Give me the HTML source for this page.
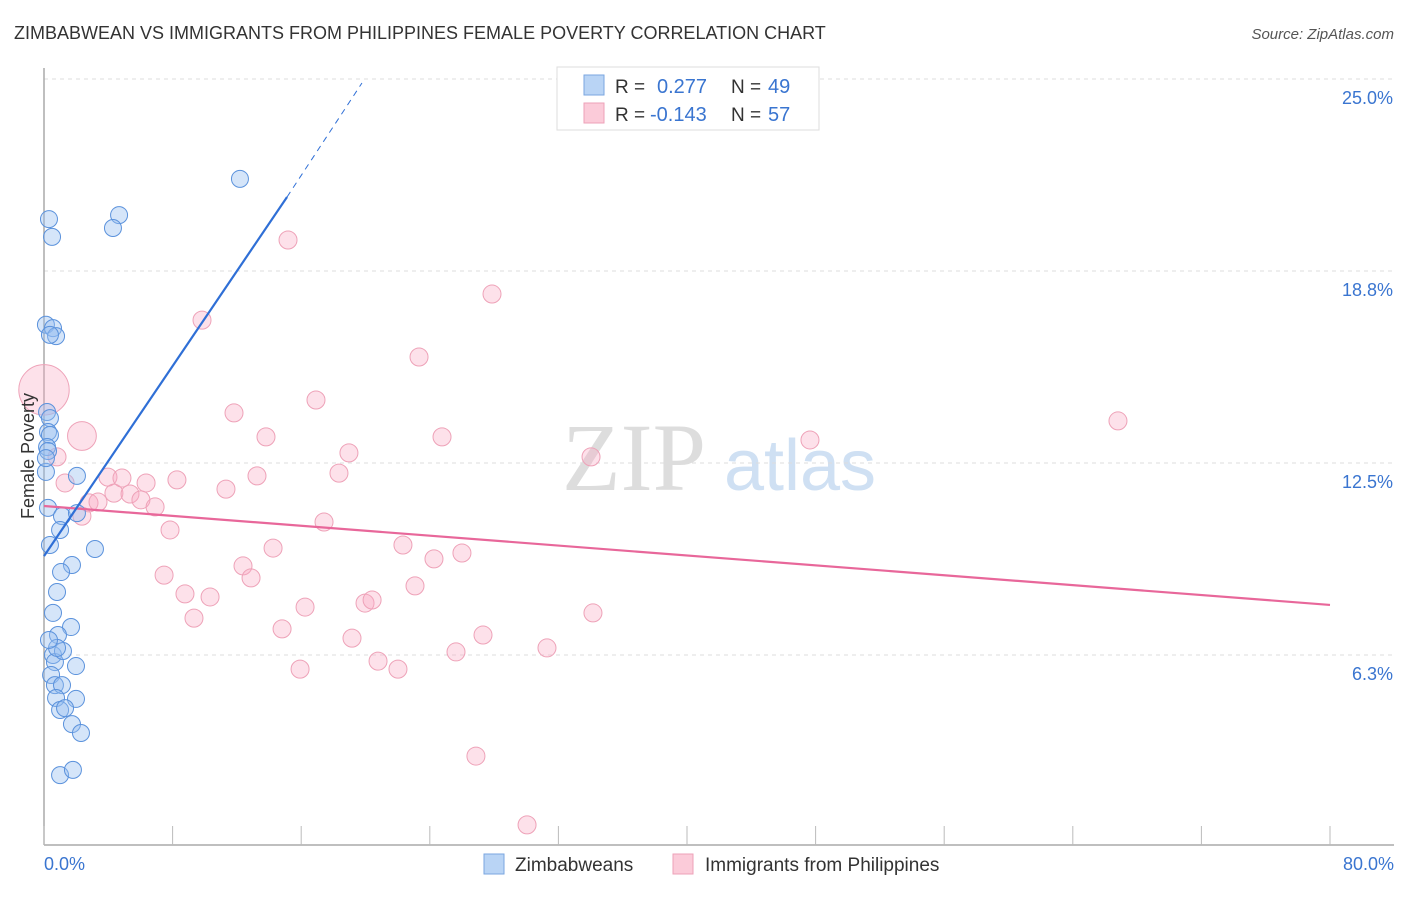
<!DOCTYPE html>
<html><head><meta charset="utf-8"><style>
body{margin:0;background:#fff;font-family:"Liberation Sans",sans-serif}
svg text{font-family:"Liberation Sans",sans-serif}
</style></head><body>
<svg id="c" width="1406" height="892" xmlns="http://www.w3.org/2000/svg">
<text x="14" y="39" font-size="18" fill="#333">ZIMBABWEAN VS IMMIGRANTS FROM PHILIPPINES FEMALE POVERTY CORRELATION CHART</text>
<text x="1394" y="39" font-size="15" fill="#555" font-style="italic" text-anchor="end">Source: ZipAtlas.com</text>
<g>
<text x="634" y="490" font-size="96" font-family="Liberation Serif" fill="#ddd" text-anchor="middle" style="font-family:'Liberation Serif',serif">ZIP</text>
<text x="800" y="490" font-size="72" fill="#cfe0f3" text-anchor="middle">atlas</text>
</g>
<g id="grid"></g>
<g id="axes"></g>
<g id="marks"></g>
<text transform="translate(34,456) rotate(-90)" font-size="18" fill="#333" text-anchor="middle">Female Poverty</text>
<g>
<rect x="557" y="67" width="262" height="63" fill="#fff" stroke="#ddd"/>
<rect x="584" y="75" width="20" height="20" fill="#b9d4f5" stroke="#7aa6e0"/>
<text x="615" y="93" font-size="19" fill="#333">R = </text><text x="657" y="93" font-size="20" fill="#3a75d0">0.277</text>
<text x="731" y="93" font-size="19" fill="#333">N = </text><text x="768" y="93" font-size="20" fill="#3a75d0">49</text>
<rect x="584" y="103" width="20" height="20" fill="#fbcbd9" stroke="#eea2b8"/>
<text x="615" y="121" font-size="19" fill="#333">R = </text><text x="650" y="121" font-size="20" fill="#3a75d0">-0.143</text>
<text x="731" y="121" font-size="19" fill="#333">N = </text><text x="768" y="121" font-size="20" fill="#3a75d0">57</text>
</g>
<g>
<rect x="484" y="854" width="20" height="20" fill="#b9d4f5" stroke="#7aa6e0"/>
<text x="515" y="871" font-size="19" fill="#333">Zimbabweans</text>
<rect x="673" y="854" width="20" height="20" fill="#fbcbd9" stroke="#eea2b8"/>
<text x="705" y="871" font-size="19" fill="#333">Immigrants from Philippines</text>
</g>
</svg>
<script>
const xTicks=[0,10,20,30,40,50,60,70,80];
const yTickVals=[6.25,12.5,18.75,25];
const yTickLabels=["6.3%","12.5%","18.8%","25.0%"];
const blueX=[12.19,4.67,4.29,0.31,0.50,0.12,0.56,0.75,0.37,0.19,0.37,0.25,0.37,0.19,0.25,0.12,2.05,0.25,1.12,2.05,0.37,1.0,3.17,1.74,1.06,0.81,0.56,1.68,0.87,0.56,0.68,1.18,1.99,0.44,0.68,1.12,1.99,0.75,1.0,1.31,1.74,2.30,1.0,1.80,0.81,0.31,0.12];
const blueY=[21.75,20.57,20.15,20.44,19.86,17.0,16.89,16.63,16.67,14.16,13.96,13.51,13.41,13.02,12.89,12.21,12.08,11.04,10.77,10.87,9.83,10.32,9.70,9.18,8.95,8.30,7.62,7.16,6.90,6.25,6.02,6.38,5.89,5.60,5.27,5.27,4.82,4.85,4.46,4.52,4.0,3.71,2.34,2.51,6.48,6.74,12.66];
const pinkX=[0,2.36,0.81,1.31,3.98,2.36,2.80,3.36,4.35,4.85,5.35,6.03,6.35,6.91,7.84,8.27,7.47,8.77,9.33,10.33,9.83,11.82,11.32,12.38,12.88,13.25,13.81,14.25,14.81,15.18,15.93,16.24,16.92,17.42,18.35,18.97,19.16,19.97,20.41,20.78,22.02,22.33,23.08,23.33,24.26,24.76,25.63,26.0,26.87,27.31,27.87,30.05,31.29,34.03,34.15,47.65,66.81];
const pinkY=[14.88,13.38,12.70,11.85,12.04,10.77,11.20,11.23,11.52,12.01,11.49,11.30,11.85,11.07,10.32,11.95,8.85,8.24,7.45,8.14,17.15,14.13,11.65,9.15,8.76,12.08,13.35,9.73,7.10,19.76,5.79,7.81,14.55,10.58,12.17,12.83,6.80,7.94,8.04,6.05,5.79,9.83,8.50,15.95,9.38,13.35,6.35,9.57,2.96,6.90,18.0,0.72,6.48,12.70,7.62,13.25,13.87];
const pinkWeight=[7,3,1,1,1,1,1,1,1,1,1,1,1,1,1,1,1,1,1,1,1,1,1,1,1,1,1,1,1,1,1,1,1,1,1,1,1,1,1,1,1,1,1,1,1,1,1,1,1,1,1,1,1,1,1,1,1];
const blueTrend=[[0,9.47],[15.12,21.16],[19.78,24.87]];
const pinkTrend=[[0,11.10],[80,7.88]];
const NS="http://www.w3.org/2000/svg";
const X=v=>44+v/80*1286, Y=v=>463-(v-12.5)*30.72;
function mk(t,a,p){const e=document.createElementNS(NS,t);for(const k in a)e.setAttribute(k,a[k]);p.appendChild(e);return e;}
const grid=document.getElementById('grid'),axes=document.getElementById('axes'),marks=document.getElementById('marks');
yTickVals.forEach((v,i)=>{
 const l=mk('line',{x1:44,x2:1394,y1:Y(v),y2:Y(v),stroke:'#ddd','stroke-dasharray':'4,4'},grid);
 
 
 const t=mk('text',{x:1393,y:Y(v)+25,'font-size':18,fill:'#3a75d0','text-anchor':'end'},axes);
 t.textContent=yTickLabels[i];
 
 
});
const ax=mk('line',{x1:44,x2:1394,y1:845,y2:845,stroke:'#aaa','stroke-width':1.5},axes);


const ay=mk('line',{x1:44,x2:44,y1:68,y2:845,stroke:'#aaa','stroke-width':1.5},axes);


for(let v=0;v<=80;v+=8){
 const t=mk('line',{x1:X(v)+(v==0?0:0),x2:X(v),y1:826,y2:845,stroke:'#bbb'},axes);
 
 
}
[[0,"0.0%","start",44],[80,"80.0%","end",1394]].forEach(d=>{
 const t=mk('text',{x:d[3],y:870,'font-size':18,fill:'#3a75d0','text-anchor':d[2]},axes);
 t.textContent=d[1];
 
 
});
pinkX.forEach((x,i)=>{
 const c=mk('circle',{cx:X(x),cy:Y(pinkY[i]),r:9+(pinkWeight[i]-1)*2.7,fill:'rgba(248,170,195,0.35)',stroke:'#eea2b8','stroke-width':1},marks);
 
 
});
blueX.forEach((x,i)=>{
 const c=mk('circle',{cx:X(x),cy:Y(blueY[i]),r:8.5,fill:'rgba(150,190,240,0.4)',stroke:'#5b92dc','stroke-width':1},marks);
 
 
});
const pt=mk('line',{x1:X(pinkTrend[0][0]),y1:Y(pinkTrend[0][1]),x2:X(pinkTrend[1][0]),y2:Y(pinkTrend[1][1]),stroke:'#e8679a','stroke-width':2.2},marks);


const bt=mk('line',{x1:X(blueTrend[0][0]),y1:Y(blueTrend[0][1]),x2:X(blueTrend[1][0]),y2:Y(blueTrend[1][1]),stroke:'#2f6fd6','stroke-width':2.2},marks);


const bd=mk('line',{x1:X(blueTrend[1][0]),y1:Y(blueTrend[1][1]),x2:X(blueTrend[2][0]),y2:Y(blueTrend[2][1]),stroke:'#2f6fd6','stroke-width':1,'stroke-dasharray':'6,5'},marks);


</script>
</body></html>
